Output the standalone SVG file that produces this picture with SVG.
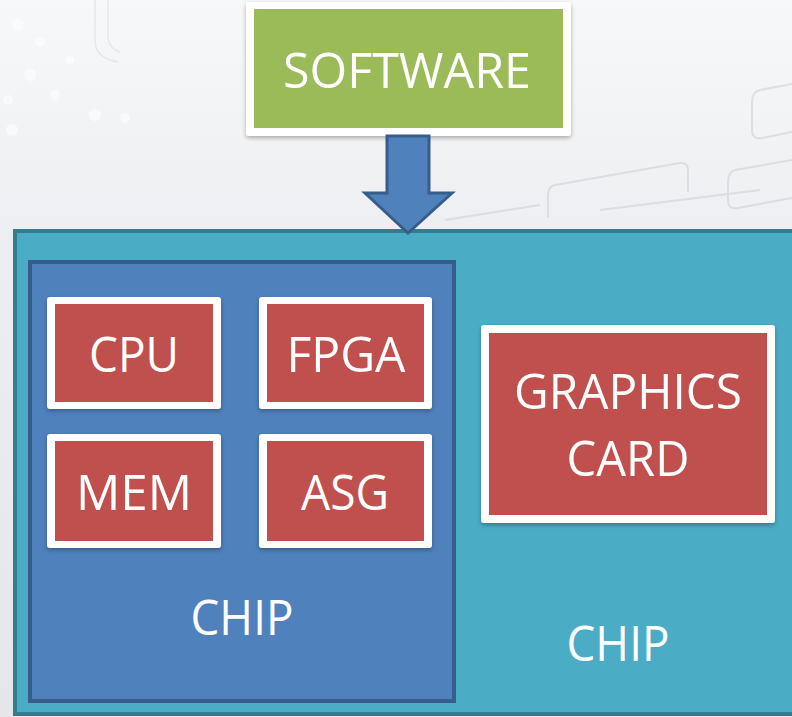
<svg xmlns="http://www.w3.org/2000/svg" width="792" height="717" viewBox="0 0 792 717">
  <style>
    .lbl { font-family: "Open Sans", "Liberation Sans", sans-serif; font-size: 49px; fill: #ffffff; text-anchor: middle; }
    .card { fill: #ffffff; filter: url(#shadow); }
    .red { fill: #C0504D; }
    .deco { fill: none; stroke: #cdd1d8; stroke-width: 2; opacity: 0.6; }
  </style>
  <defs>
    <linearGradient id="bg" x1="0" y1="0" x2="0" y2="1">
      <stop offset="0" stop-color="#f7f8f9"/>
      <stop offset="0.35" stop-color="#eceef1"/>
      <stop offset="1" stop-color="#e4e6ea"/>
    </linearGradient>
    <filter id="shadow" x="-10%" y="-10%" width="120%" height="125%">
      <feDropShadow dx="0" dy="2" stdDeviation="2" flood-color="#000000" flood-opacity="0.3"/>
    </filter>
  </defs>

  <!-- backdrop -->
  <rect x="0" y="0" width="792" height="717" fill="url(#bg)"/>
  <g class="deco">
    <path d="M760 90 L792 84 M760 90 Q752 92 752 102 L752 130 Q752 140 762 138 L792 132"/>
    <path d="M555 185 Q548 186 548 196 L548 218 M555 185 L680 163 Q688 162 688 170 L688 192"/>
    <path d="M735 170 Q728 172 728 182 L728 200 Q728 210 738 208 L792 198 M735 170 L792 160"/>
    <path d="M445 220 L540 205 M600 210 L760 190"/>
  </g>
  <g fill="#ffffff" opacity="0.6">
    <circle cx="18" cy="25" r="6"/><circle cx="40" cy="42" r="5"/><circle cx="30" cy="75" r="6"/>
    <circle cx="55" cy="95" r="5"/><circle cx="95" cy="115" r="6"/><circle cx="125" cy="118" r="5"/>
    <circle cx="12" cy="130" r="6"/><circle cx="8" cy="100" r="5"/><circle cx="70" cy="60" r="4"/>
  </g>
  <path d="M95 0 L95 40 Q95 55 110 60 L118 62 M108 0 L108 35 Q108 48 120 52" fill="none" stroke="#e3e7ee" stroke-width="1.5"/>

  <!-- outer chip -->
  <g id="chip-outer">
    <rect x="15" y="231" width="790" height="483" fill="#4BACC6" stroke="#357D8E" stroke-width="4"/>
    <text class="lbl" x="618" y="661" textLength="103" lengthAdjust="spacingAndGlyphs">CHIP</text>
  </g>

  <!-- inner chip -->
  <g id="chip-inner">
    <rect x="30" y="262" width="424" height="439" fill="#4F81BD" stroke="#385D8A" stroke-width="4"/>
    <text class="lbl" x="242" y="635" textLength="103" lengthAdjust="spacingAndGlyphs">CHIP</text>
  </g>

  <!-- software block -->
  <g id="software">
    <rect class="card" x="246" y="2" width="325" height="134" rx="3"/>
    <rect x="254" y="9" width="309" height="119" fill="#9BBB59"/>
    <text class="lbl" x="407" y="88" textLength="248" lengthAdjust="spacingAndGlyphs">SOFTWARE</text>
  </g>

  <!-- connectors -->
  <g id="connectors">
    <path d="M387 136 L429 136 L429 193 L452 193 L408 233 L365 193 L387 193 Z" fill="#4F81BD" stroke="#385D8A" stroke-width="3" stroke-linejoin="miter"/>
  </g>

  <g id="cpu">
    <rect class="card" x="47" y="297" width="174" height="112" rx="3"/>
    <rect class="red" x="55" y="304" width="158" height="98"/>
    <text class="lbl" x="134" y="372" textLength="90" lengthAdjust="spacingAndGlyphs">CPU</text>
  </g>

  <g id="fpga">
    <rect class="card" x="259" y="297" width="173" height="112" rx="3"/>
    <rect class="red" x="267" y="304" width="157" height="98"/>
    <text class="lbl" x="346" y="372" textLength="119" lengthAdjust="spacingAndGlyphs">FPGA</text>
  </g>

  <g id="mem">
    <rect class="card" x="47" y="434" width="174" height="114" rx="3"/>
    <rect class="red" x="55" y="441" width="158" height="100"/>
    <text class="lbl" x="134" y="510" textLength="116" lengthAdjust="spacingAndGlyphs">MEM</text>
  </g>

  <g id="asg">
    <rect class="card" x="259" y="434" width="173" height="114" rx="3"/>
    <rect class="red" x="267" y="441" width="157" height="100"/>
    <text class="lbl" x="345" y="510" textLength="88" lengthAdjust="spacingAndGlyphs">ASG</text>
  </g>

  <g id="graphics-card">
    <rect class="card" x="481" y="325" width="294" height="198" rx="3"/>
    <rect class="red" x="489" y="333" width="278" height="182"/>
    <text class="lbl" x="628" y="409" textLength="228" lengthAdjust="spacingAndGlyphs">GRAPHICS</text>
    <text class="lbl" x="628" y="476" textLength="123" lengthAdjust="spacingAndGlyphs">CARD</text>
  </g>
</svg>
